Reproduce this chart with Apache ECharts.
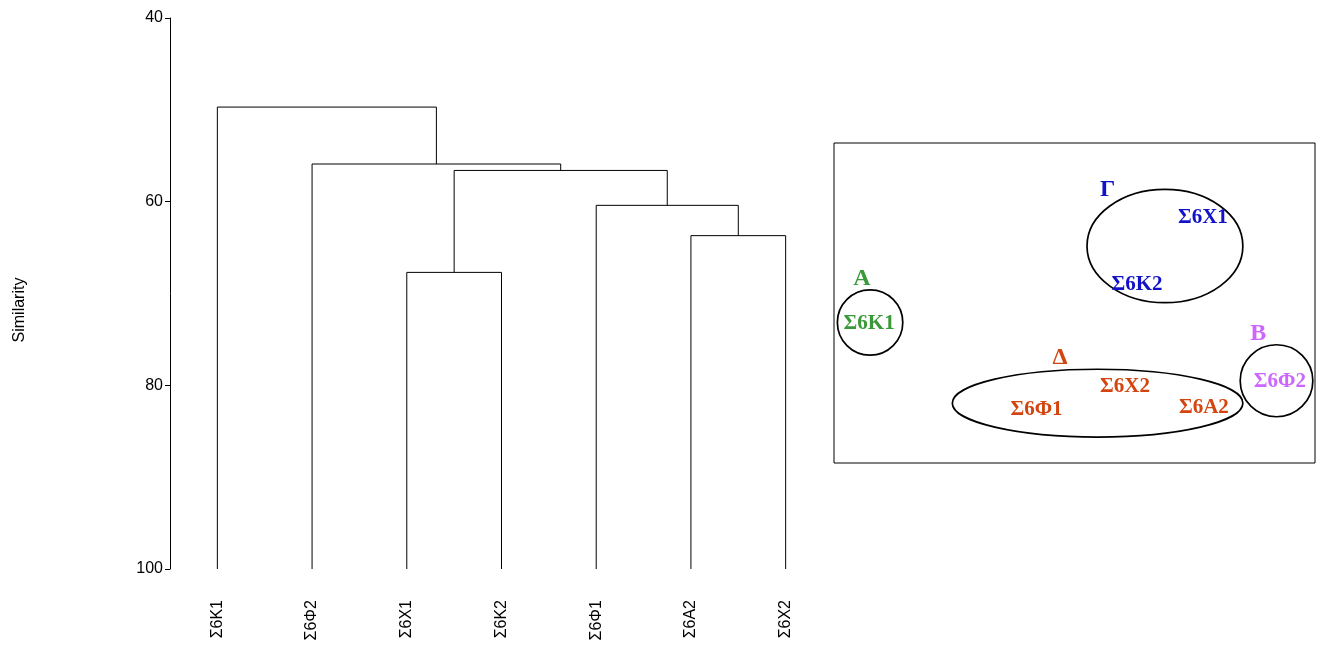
<!DOCTYPE html>
<html>
<head>
<meta charset="utf-8">
<script src="https://cdn.jsdelivr.net/npm/echarts@6/dist/echarts.min.js"></script>
<style>
    html, body {margin: 0; padding: 0; background: #fff;}
    #chart {width: 1319px; height: 646px;}
</style>
</head>
<body>
<div id="chart"></div>
<script>
// leaves of the dendrogram, left to right
const leafNames = ['Σ6K1', 'Σ6Φ2', 'Σ6X1', 'Σ6K2', 'Σ6Φ1', 'Σ6A2', 'Σ6X2'];

// merges: node 7 + k joins mergeA[k] and mergeB[k] at mergeSim[k]
const mergeA = [2, 5, 4, 7, 1, 0];
const mergeB = [3, 6, 8, 9, 10, 11];
const mergeSim = [67.7, 63.7, 60.4, 56.6, 55.9, 49.7];

const yTicks = [40, 60, 80, 100];

// right panel (units 0-100 on both axes)
const groupNames = ['A', 'Γ', 'Δ', 'B'];
const groupColors = ['#3a9a3a', '#1212c8', '#d4440f', '#cc66ff'];
const groupLetterX = [5.8, 56.9, 47.0, 88.2];
const groupLetterY = [57.6, 85.4, 33.0, 40.4];
const ellipseX = [7.5, 68.8, 54.8, 92.0];
const ellipseY = [43.9, 67.8, 18.7, 25.7];
const ellipseRx = [6.8, 16.2, 30.2, 7.55];
const ellipseRy = [10.2, 17.7, 10.6, 11.25];

const sampleNames = ['Σ6K1', 'Σ6X1', 'Σ6K2', 'Σ6X2', 'Σ6Φ1', 'Σ6A2', 'Σ6Φ2'];
const sampleGroup = [0, 1, 1, 2, 2, 2, 3];
const sampleX = [7.3, 76.7, 63.0, 60.5, 42.1, 76.9, 92.7];
const sampleY = [43.7, 76.6, 55.9, 23.8, 16.8, 17.4, 25.6];

const chart = echarts.init(document.getElementById('chart'));

function renderLink(params, api) {
    const k = params.dataIndex;
    function pos(n) {
        if (n < leafNames.length) {
            return api.coord([n, 100]);
        }
        const m = n - leafNames.length;
        const a = pos(mergeA[m]);
        const b = pos(mergeB[m]);
        return [(a[0] + b[0]) / 2, api.coord([0, mergeSim[m]])[1]];
    }
    const a = pos(mergeA[k]);
    const b = pos(mergeB[k]);
    const y = api.coord([0, mergeSim[k]])[1];
    return {
        type: 'polyline',
        shape: {points: [[a[0], a[1]], [a[0], y], [b[0], y], [b[0], b[1]]]},
        style: {fill: null, stroke: '#000', lineWidth: 1}
    };
}

function renderEllipse(params, api) {
    const c = api.coord([api.value(0), api.value(1)]);
    const size = api.size([api.value(2), api.value(3)]);
    return {
        type: 'ellipse',
        shape: {cx: c[0], cy: c[1], rx: size[0], ry: size[1]},
        style: {fill: null, stroke: '#000', lineWidth: 1.7}
    };
}

const labelFont = '"Liberation Serif", "DejaVu Serif", serif';

const option = {
    animation: false,
    backgroundColor: '#fff',
    graphic: [{
        type: 'text',
        x: 20,
        y: 310,
        rotation: Math.PI / 2,
        style: {
            text: 'Similarity',
            x: 0,
            y: 0,
            align: 'center',
            verticalAlign: 'middle',
            fill: '#000',
            font: '16px "Liberation Sans", Arial, sans-serif'
        }
    }],
    grid: [
        {left: 170, right: 486, top: 18, bottom: 77},
        {left: 834, top: 143, width: 481, height: 320, show: true, borderColor: '#000', borderWidth: 1}
    ],
    xAxis: [
        {
            gridIndex: 0,
            type: 'category',
            data: leafNames,
            axisLine: {show: false},
            axisTick: {show: false},
            axisLabel: {
                rotate: 90,
                margin: 31,
                color: '#000',
                fontSize: 16,
                fontFamily: '"Liberation Sans", Arial, sans-serif'
            }
        },
        {gridIndex: 1, type: 'value', min: 0, max: 100, show: false}
    ],
    yAxis: [
        {
            gridIndex: 0,
            type: 'value',
            inverse: true,
            min: yTicks[0],
            max: yTicks[yTicks.length - 1],
            interval: 20,
            splitLine: {show: false},
            axisLine: {show: true, lineStyle: {color: '#000', width: 1}},
            axisTick: {show: true, length: 5, lineStyle: {color: '#000'}},
            axisLabel: {
                margin: 7,
                color: '#000',
                fontSize: 16,
                fontFamily: '"Liberation Sans", Arial, sans-serif'
            }
        },
        {gridIndex: 1, type: 'value', min: 0, max: 100, show: false}
    ],
    series: [
        {
            type: 'custom',
            xAxisIndex: 0,
            yAxisIndex: 0,
            renderItem: renderLink,
            data: mergeSim.map((s, k) => [mergeA[k], s]),
            silent: true
        },
        {
            type: 'custom',
            xAxisIndex: 1,
            yAxisIndex: 1,
            renderItem: renderEllipse,
            data: ellipseX.map((x, i) => [x, ellipseY[i], ellipseRx[i], ellipseRy[i]]),
            silent: true
        },
        {
            type: 'scatter',
            xAxisIndex: 1,
            yAxisIndex: 1,
            symbolSize: 0,
            silent: true,
            itemStyle: {opacity: 1},
            data: sampleNames.map((name, i) => ({
                name: name,
                value: [sampleX[i], sampleY[i]],
                label: {color: groupColors[sampleGroup[i]]}
            })),
            label: {
                show: true,
                position: 'inside',
                formatter: '{b}',
                opacity: 1,
                fontSize: 21,
                fontWeight: 'bold',
                fontFamily: labelFont
            }
        },
        {
            type: 'scatter',
            xAxisIndex: 1,
            yAxisIndex: 1,
            symbolSize: 0,
            silent: true,
            itemStyle: {opacity: 1},
            data: groupNames.map((name, i) => ({
                name: name,
                value: [groupLetterX[i], groupLetterY[i]],
                label: {color: groupColors[i]}
            })),
            label: {
                show: true,
                position: 'inside',
                formatter: '{b}',
                opacity: 1,
                fontSize: 24,
                fontWeight: 'bold',
                fontFamily: labelFont
            }
        }
    ]
};

chart.setOption(option);
</script>
</body>
</html>
